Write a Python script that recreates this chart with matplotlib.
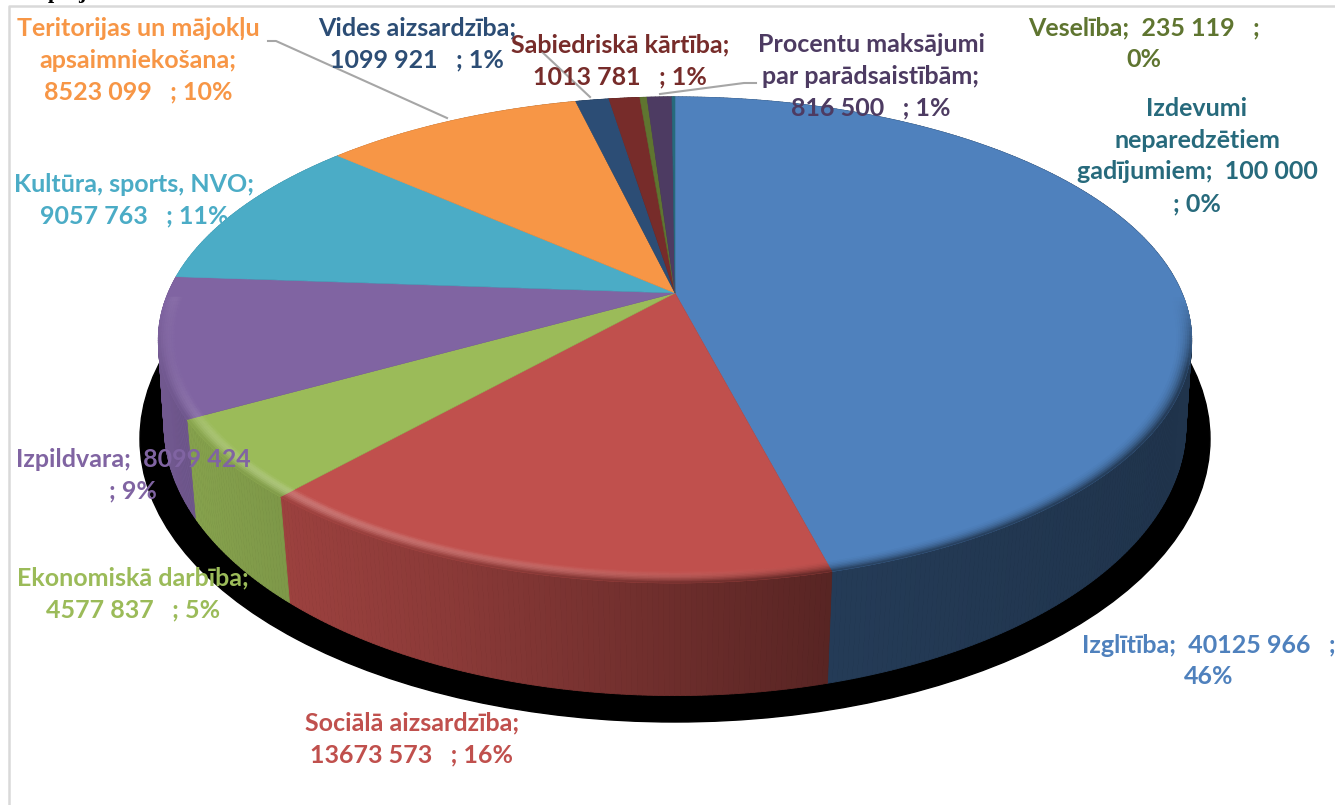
import numpy as np
import matplotlib
matplotlib.use('Agg')
import matplotlib.pyplot as plt
from matplotlib.collections import PolyCollection
from matplotlib.colors import to_rgb
from matplotlib.patches import Ellipse

categories = ['Izglītība', 'Sociālā aizsardzība', 'Ekonomiskā darbība', 'Izpildvara',
              'Kultūra, sports, NVO', 'Teritorijas un mājokļu apsaimniekošana',
              'Vides aizsardzība', 'Sabiedriskā kārtība', 'Veselība',
              'Procentu maksājumi par parādsaistībām',
              'Izdevumi neparedzētiem gadījumiem']
values = [40125966, 13673573, 4577837, 8099424, 9057763, 8523099,
          1099921, 1013781, 235119, 816500, 100000]
label_texts = ['Izglītība;  40125 966   ;\n46%',
               'Sociālā aizsardzība;\n13673 573   ; 16%',
               'Ekonomiskā darbība;\n4577 837   ; 5%',
               'Izpildvara;  8099 424\n; 9%',
               'Kultūra, sports, NVO;\n9057 763   ; 11%',
               'Teritorijas un mājokļu\napsaimniekošana;\n8523 099   ; 10%',
               'Vides aizsardzība;\n1099 921   ; 1%',
               'Sabiedriskā kārtība;\n1013 781   ; 1%',
               'Veselība;  235 119   ;\n0%',
               'Procentu maksājumi\npar parādsaistībām;\n816 500   ; 1%',
               'Izdevumi\nneparedzētiem\ngadījumiem;  100 000\n; 0%']

colors = ['#4f81bd', '#c0504d', '#9bbb59', '#8064a2', '#4bacc6', '#f79646',
          '#2c4d75', '#772c2a', '#5f7530', '#4d3b62', '#276a7c']
# label centres in pixels
label_pos = [(1209, 661), (412, 739), (133, 594), (133, 475), (134, 200), (138, 60),
             (417, 44), (620, 61), (1144, 44), (871, 76), (1197, 156)]

plt.rcParams['font.family'] = ['Lato', 'DejaVu Sans']

fig = plt.figure(figsize=(13.35, 8.05), dpi=100)
ax = fig.add_axes([0, 0, 1, 1])
ax.set_xlim(0, 1335)
ax.set_ylim(805, 0)
ax.axis('off')


# Tilted circle -> screen, one projection for the top face and one for the bottom edge
def top_xy(rho, theta):
    den = 1 + 0.193 * rho * np.cos(theta)
    return (675 + 507 * rho * np.sin(theta) / den,
            293 - 234 * rho * np.cos(theta) / den)


def bottom_xy(theta):
    den = 1 + 0.175 * np.cos(theta)
    return (675 + 503 * np.sin(theta) / den,
            378 - 262 * np.cos(theta) / den)


def wall_shade(x):
    return np.interp(x, [160, 300, 450, 830, 1190], [0.88, 0.80, 0.72, 0.46, 0.40])


def mix(c1, c2, t):
    return tuple((1 - t) * a + t * b for a, b in zip(c1, c2))


# Frame and cut-off title above the chart
ax.plot([9, 9, 1335], [805, 6, 6], color='#d9d9d9', lw=1.8, zorder=1)
ax.text(48, -2, 'p', family='Liberation Serif', weight='bold', fontsize=16, color='black', va='baseline')
ax.text(78, -2, 'j', family='Liberation Serif', weight='bold', fontsize=16, color='black', va='baseline')

# Shadow under the pie
ax.add_patch(Ellipse((675, 439), 1070, 566, color='black', zorder=2))

fracs = np.array(values) / sum(values)
edges = np.concatenate([[0], np.cumsum(fracs)]) * 2 * np.pi

# Side wall
polys, cols = [], []
for i in range(len(values)):
    n = max(2, int(fracs[i] * 720))
    th = np.linspace(edges[i], edges[i + 1], n + 1)
    for a, b in zip(th[:-1], th[1:]):
        xa, ya = top_xy(1, a)
        xb, yb = top_xy(1, b)
        xc, yc = bottom_xy(b)
        xd, yd = bottom_xy(a)
        polys.append([(xa, ya), (xb, yb), (xc, yc), (xd, yd)])
        s = wall_shade((xa + xb) / 2)
        cols.append(tuple(c * s for c in to_rgb(colors[i])))
ax.add_collection(PolyCollection(polys, facecolors=cols, edgecolors=cols, linewidths=0.6, zorder=3))

# Top face
for i in range(len(values)):
    th = np.linspace(edges[i], edges[i + 1], max(2, int(fracs[i] * 720)) + 1)
    x, y = top_xy(1, th)
    ax.fill(np.r_[675, x], np.r_[293, y], color=colors[i], lw=0.4, zorder=4)

# Rounded rim on the front part of the top face
rings = np.linspace(0.968, 1.0, 9)
polys, cols = [], []
for i in range(len(values)):
    base = to_rgb(colors[i])
    th = np.linspace(edges[i], edges[i + 1], max(2, int(fracs[i] * 360)) + 1)
    for a, b in zip(th[:-1], th[1:]):
        mid = (a + b) / 2
        w = np.clip((-0.02 - np.cos(mid)) / 0.3, 0, 1)
        if w == 0:
            continue
        xm = top_xy(1, mid)[0]
        hl = np.interp(xm, [160, 200, 300, 550, 830, 1190], [0.04, 0.2, 0.28, 0.18, 0.0, 0.0])
        wall = tuple(c * wall_shade(xm) for c in base)
        for r0, r1 in zip(rings[:-1], rings[1:]):
            t = (r0 + r1 - 2 * rings[0]) / 2 / (rings[-1] - rings[0])
            c = mix(base, (1, 1, 1), hl * np.sin(np.pi * t))
            c = mix(c, wall, w * t ** 2)
            xa, ya = top_xy(r0, a)
            xb, yb = top_xy(r0, b)
            xc, yc = top_xy(r1, b)
            xd, yd = top_xy(r1, a)
            polys.append([(xa, ya), (xb, yb), (xc, yc), (xd, yd)])
            cols.append(c)
ax.add_collection(PolyCollection(polys, facecolors=cols, edgecolors=cols, linewidths=0.4, zorder=5))

# Leader lines
for lx, ly in [([268, 276, 447], [41, 41, 118]),
               ([540, 590], [50, 97]),
               ([756, 744, 660], [83, 83, 94])]:
    ax.plot(lx, ly, color='#a6a6a6', lw=1.5, zorder=6)

# Data labels
for txt, pos, col in zip(label_texts, label_pos, colors):
    ax.text(pos[0], pos[1], txt, color=col, weight='bold', fontsize=18,
            ha='center', va='center', linespacing=1.46, zorder=7)

fig.savefig('out.png', dpi=100, facecolor='white')
plt.close(fig)
